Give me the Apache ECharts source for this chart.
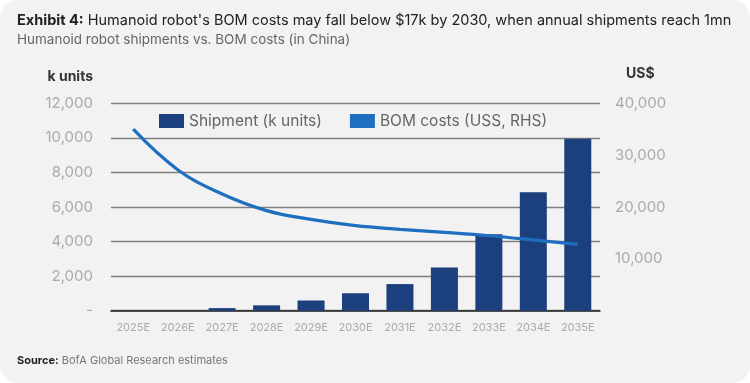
<!DOCTYPE html>
<html>
<head>
<meta charset="utf-8">
<script src="https://cdn.jsdelivr.net/npm/echarts@6/dist/echarts.min.js"></script>
<style>
html,body{margin:0;padding:0;background:#ffffff;}
#c{width:750px;height:383px;background:#f2f2f2;border-radius:18px;overflow:hidden;}
</style>
</head>
<body>
<div id="c"></div>
<script>
const categories = ['2025E','2026E','2027E','2028E','2029E','2030E','2031E','2032E','2033E','2034E','2035E'];
const shipments = [0, 0, 150, 310, 590, 1010, 1540, 2500, 4420, 6850, 9950];
const bomCosts = [35000, 27200, 22500, 19300, 17600, 16400, 15700, 15100, 14450, 13650, 12800];
const leftTicks = {min: 0, max: 12000, interval: 2000};
const rightTicks = {min: 0, max: 40000, interval: 10000};

const chart = echarts.init(document.getElementById('c'));
const fmt = v => v === 0 ? '-' : v.toLocaleString('en-US');
chart.setOption({
  backgroundColor: 'transparent',
  textStyle: {fontFamily: 'Inter'},
  title: [{
    left: 17, top: 13, padding: 0,
    text: '{b|Exhibit 4:} Humanoid robot\'s BOM costs may fall below $17k by 2030, when annual shipments reach 1mn',
    textStyle: {fontSize: 14.5, fontWeight: 'normal', color: '#222', fontFamily: 'Inter',
      rich: {b: {fontWeight: 'bold', fontSize: 14.5, color: '#222', fontFamily: 'Inter'}}}
  }, {
    left: 17, top: 33, padding: 0,
    text: 'Humanoid robot shipments vs. BOM costs (in China)',
    textStyle: {fontSize: 13.5, fontWeight: 'normal', color: '#666', fontFamily: 'Inter'}
  }, {
    left: 17, top: 355, padding: 0,
    text: '{b|Source:} BofA Global Research estimates',
    textStyle: {fontSize: 11, fontWeight: 'normal', color: '#777', fontFamily: 'Inter',
      rich: {b: {fontWeight: 'bold', fontSize: 11, color: '#222', fontFamily: 'Inter'}}}
  }],
  graphic: [
    {type: 'text', right: 750 - 93, top: 70, style: {text: 'k units', font: 'bold 14px Inter', fill: '#333', textAlign: 'right'}},
    {type: 'text', left: 626, top: 67, style: {text: 'US$', font: 'bold 14px Inter', fill: '#333'}}
  ],
  legend: {
    left: 154, top: 108,
    itemGap: 28,
    textStyle: {fontSize: 15.5, color: '#666', fontFamily: 'Inter'},
    data: [
      {name: 'Shipment (k units)', icon: 'rect', itemWidth: 30, itemHeight: 9},
      {name: 'BOM costs (USS, RHS)', icon: 'rect', itemWidth: 35, itemHeight: 3}
    ]
  },
  grid: {left: 111, right: 150, top: 103.3, bottom: 72.3, containLabel: false},
  xAxis: {
    type: 'category', data: categories,
    axisLine: {lineStyle: {color: '#222', width: 1.5}},
    axisTick: {show: false},
    axisLabel: {color: '#aaa', fontSize: 11, margin: 11, interval: 0, fontFamily: 'Inter'}
  },
  yAxis: [{
    type: 'value', min: leftTicks.min, max: leftTicks.max, interval: leftTicks.interval,
    axisLine: {show: false}, axisTick: {show: false},
    splitLine: {lineStyle: {color: '#7f7f7f', width: 1.3}},
    axisLabel: {color: '#aaa', fontSize: 15, margin: 18, formatter: fmt, fontFamily: 'Inter'}
  }, {
    type: 'value', min: rightTicks.min, max: rightTicks.max, interval: rightTicks.interval,
    axisLine: {show: false}, axisTick: {show: false}, splitLine: {show: false},
    axisLabel: {color: '#aaa', fontSize: 15, margin: 15, fontFamily: 'Inter',
      formatter: v => v === 0 ? '' : v.toLocaleString('en-US')}
  }],
  series: [{
    name: 'Shipment (k units)', type: 'bar', data: shipments, barWidth: 27,
    itemStyle: {color: '#1c3f7d'}
  }, {
    name: 'BOM costs (USS, RHS)', type: 'line', yAxisIndex: 1, data: bomCosts,
    smooth: 0.4, showSymbol: false, symbol: 'none',
    lineStyle: {color: '#1f6fc0', width: 3.2},
    itemStyle: {color: '#1f6fc0'}
  }]
});
</script>
</body>
</html>
